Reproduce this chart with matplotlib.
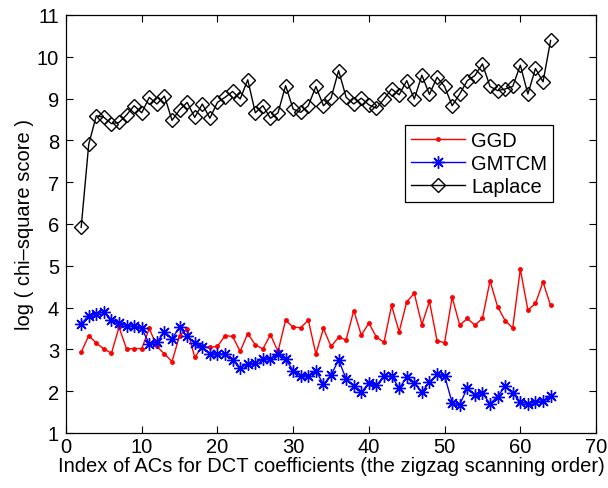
import numpy as np
import matplotlib
matplotlib.use("Agg")
import matplotlib.pyplot as plt

plt.rcParams['font.family'] = ['Liberation Sans', 'DejaVu Sans']

# index of AC coefficients (zigzag order)
ac_index = list(range(2, 65))

ggd = [2.93, 3.33, 3.15, 3.01, 2.91, 3.53, 3.01, 3.02, 3.02, 3.50,
       3.07, 2.89, 2.71, 3.33, 3.49, 2.81, 3.07, 3.05, 3.07, 3.33,
       3.31, 2.95, 3.38, 3.11, 3.01, 3.35, 2.95, 3.70, 3.53, 3.52,
       3.70, 2.89, 3.50, 3.07, 3.29, 3.23, 3.93, 3.34, 3.63, 3.29,
       3.17, 4.05, 3.42, 4.14, 4.34, 3.59, 4.15, 3.21, 3.16, 4.25,
       3.58, 3.74, 3.58, 3.74, 4.64, 4.02, 3.69, 3.51, 4.92, 3.94,
       4.10, 4.61, 4.05]

gmtcm = [3.61, 3.81, 3.85, 3.90, 3.71, 3.62, 3.57, 3.55, 3.50, 3.13,
         3.17, 3.42, 3.26, 3.53, 3.31, 3.15, 3.05, 2.89, 2.89, 2.89,
         2.75, 2.55, 2.65, 2.68, 2.77, 2.78, 2.89, 2.77, 2.49, 2.37,
         2.37, 2.49, 2.16, 2.38, 2.75, 2.29, 2.13, 1.97, 2.20, 2.14,
         2.36, 2.36, 2.07, 2.33, 2.20, 1.97, 2.22, 2.40, 2.37, 1.72,
         1.68, 2.08, 1.92, 1.95, 1.70, 1.87, 2.12, 1.95, 1.75, 1.70,
         1.75, 1.77, 1.88]

laplace = [5.92, 7.91, 8.59, 8.55, 8.40, 8.43, 8.61, 8.83, 8.66, 9.03,
           8.87, 9.06, 8.48, 8.73, 8.91, 8.55, 8.87, 8.53, 8.91, 9.03,
           9.17, 8.99, 9.45, 8.66, 8.83, 8.53, 8.66, 9.31, 8.75, 8.67,
           8.83, 9.29, 8.83, 9.01, 9.67, 9.03, 8.87, 9.01, 8.85, 8.77,
           8.99, 9.23, 9.09, 9.43, 8.99, 9.56, 9.10, 9.51, 9.29, 8.83,
           9.11, 9.43, 9.55, 9.83, 9.29, 9.19, 9.23, 9.29, 9.80, 9.11,
           9.72, 9.40, 10.39]

fig = plt.figure(figsize=(6.08, 4.89), dpi=100)
ax = fig.add_axes([0.1086, 0.1125, 0.8717, 0.8548])

ax.plot(ac_index, ggd, color='red', lw=1.0, marker='.', ms=5, label='GGD')
ax.plot(ac_index, gmtcm, color='blue', lw=1.0, marker=(8, 2, 0), ms=9,
        mew=1.0, label='GMTCM')
ax.plot(ac_index, laplace, color='black', lw=1.0, marker='D', ms=7.5,
        mfc='none', mew=1.0, label='Laplace')

ax.set_xlim(0, 70)
ax.set_ylim(1, 11)
ax.set_xticks(range(0, 71, 10))
ax.set_yticks(range(1, 12))
ax.tick_params(direction='in', top=True, right=True, length=5,
               labelsize=14.5)
ax.tick_params(axis='x', pad=3)
ax.tick_params(axis='y', pad=5)
for s in ax.spines.values():
    s.set_linewidth(0.9)

ax.set_xlabel('Index of ACs for DCT coefficients (the zigzag scanning order)',
              fontsize=14.5, labelpad=0)
ax.set_ylabel('log ( chi\u2013square score )', fontsize=14.5, labelpad=2)

leg = ax.legend(loc='upper right', bbox_to_anchor=(0.938, 0.762),
                fontsize=14.5, handlelength=2.7, fancybox=False,
                framealpha=1, edgecolor='black', borderpad=0.3,
                labelspacing=0.2, handletextpad=0.3)
leg.get_frame().set_linewidth(0.9)

plt.savefig('out.png', dpi=100)
